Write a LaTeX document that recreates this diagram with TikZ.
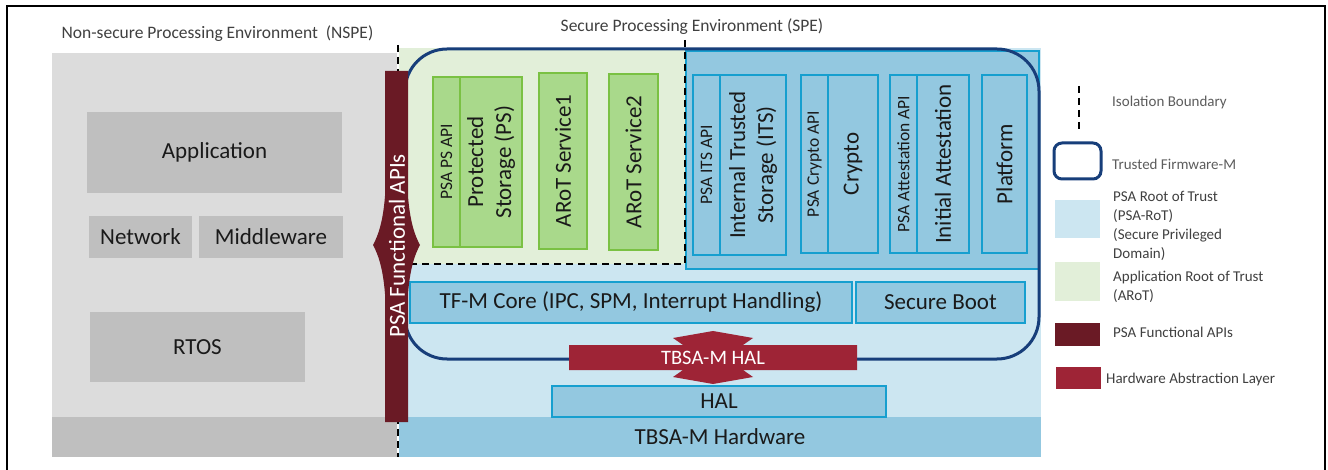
\documentclass[tikz,border=0pt]{standalone}
\usepackage{fontspec}
\setmainfont{Carlito}
\definecolor{nsbg}{HTML}{DCDCDC}
\definecolor{nsbox}{HTML}{BFBFBF}
\definecolor{speblue}{HTML}{CCE6F1}
\definecolor{medblue}{HTML}{93C8E0}
\definecolor{cyanb}{HTML}{169FCF}
\definecolor{arotbg}{HTML}{E2EFD9}
\definecolor{gfill}{HTML}{A9D98B}
\definecolor{gborder}{HTML}{7AC143}
\definecolor{navy}{HTML}{173E7A}
\definecolor{maroon}{HTML}{6A1A25}
\definecolor{halred}{HTML}{9E2436}
\definecolor{txt}{HTML}{1A1A1A}
\definecolor{legtxt}{HTML}{404040}
\tikzset{
  big/.style={font=\fontsize{23}{28}\selectfont},
  small/.style={font=\fontsize{17.5}{20}\selectfont},
  nbox/.style={fill=nsbox, inner sep=0pt, text=txt, big},
  gbox/.style={draw=gborder, fill=gfill, line width=2.5pt, inner sep=0pt, text=txt, rotate=90, align=center},
  bbox/.style={draw=cyanb, fill=medblue, line width=2.5pt, inner sep=0pt, text=txt, rotate=90, align=center},
  hbox/.style={draw=cyanb, fill=medblue, line width=2.5pt, inner sep=0pt, text=txt, big},
  iso/.style={line width=2.2pt, dash pattern=on 7pt off 5pt},
  legend/.style={anchor=west, text=legtxt, font=\fontsize{15}{19}\selectfont, inner sep=0pt, align=left},
  swatch/.style={inner sep=0pt},
}
\begin{document}
\begin{tikzpicture}[x=1pt,y=-1pt]
\useasboundingbox (0,0) rectangle (1328,470);
\fill[white] (0,0) rectangle (1328,470);
% outer frame
\draw[line width=1.6pt] (7,480) -- (7,6) -- (1325,6) -- (1325,480);
% NSPE
\node[fill=nsbg, minimum width=345, minimum height=364, inner sep=0pt] (nspe) at (224.5,235) {};
\node[fill=nsbox, minimum width=345, minimum height=40, inner sep=0pt] (nsstrip) at (224.5,437) {};
\node[nbox, minimum width=255, minimum height=81] (app) at (214.5,152.5) {Application};
\node[nbox, minimum width=103, minimum height=42] (net) at (140.5,237) {Network};
\node[nbox, minimum width=144, minimum height=42] (mid) at (271,237) {Middleware};
\node[nbox, minimum width=215, minimum height=70] (rtos) at (197.5,347) {RTOS};
\node[text=legtxt, font=\fontsize{17.5}{20}\selectfont, inner sep=0pt] (nspelbl) at (217.5,34) {Non-secure Processing Environment~~(NSPE)};
\node[text=legtxt, font=\fontsize{17.5}{20}\selectfont, inner sep=0pt] (spelbl) at (692,27) {Secure Processing Environment (SPE)};
% SPE backgrounds
\fill[speblue] (399,48) rectangle (1041,417);
\node[fill=medblue, minimum width=642, minimum height=40, inner sep=0pt, text=txt, big] (hw) at (720,437) {TBSA-M Hardware};
\fill[arotbg] (399,48) rectangle (685,264);
\draw[cyanb, line width=1.8pt, fill=medblue] (686,51) rectangle (1039,269);
% isolation boundaries
\draw[iso] (398,45) -- (398,457);
\draw[iso] (685,40) -- (685,264) -- (407,264);
% Trusted Firmware-M
\node[draw=navy, line width=3pt, rounded corners=42pt, minimum width=634, minimum height=310, inner sep=0pt] (tfm) at (722,204) {};
% ARoT boxes
\node[gbox, small, minimum width=170, minimum height=27] (psaps) at (446.5,162) {PSA PS API};
\node[gbox, big, minimum width=170, minimum height=62] (ps) at (491,162) {Protected\\Storage (PS)};
\node[gbox, big, minimum width=176, minimum height=48] (arot1) at (563,161) {ARoT Service1};
\node[gbox, big, minimum width=176, minimum height=49] (arot2) at (633.5,162) {ARoT Service2};
% PSA-RoT boxes
\node[bbox, small, minimum width=180, minimum height=27] (itsapi) at (706.5,165) {PSA ITS API};
\node[bbox, big, minimum width=180, minimum height=66] (its) at (753,165) {Internal Trusted\\Storage (ITS)};
\node[bbox, small, minimum width=178, minimum height=27] (cryptoapi) at (814.5,164) {PSA Crypto API};
\node[bbox, big, minimum width=178, minimum height=50] (crypto) at (853,164) {Crypto};
\node[bbox, small, minimum width=178, minimum height=27] (attapi) at (903.5,164) {PSA Attestation API};
\node[bbox, big, minimum width=178, minimum height=52] (att) at (943,164) {Initial Attestation};
\node[bbox, big, minimum width=178, minimum height=45] (plat) at (1004.5,164) {Platform};
% core row
\node[hbox, minimum width=442, minimum height=41] (core) at (631,302.5) {TF-M Core (IPC, SPM, Interrupt Handling)};
\node[hbox, minimum width=169, minimum height=41] (boot) at (940.5,302.5) {Secure Boot};
\node[hbox, minimum width=334, minimum height=31] (hal) at (719,401.5) {HAL};
% TBSA-M HAL arrow
\fill[halred] (569,345) -- (683,345) -- (673,338) -- (713,331) -- (753,338) -- (743,345) -- (857,345)
  -- (857,370) -- (743,370) -- (753,377) -- (713,384) -- (673,377) -- (683,370) -- (569,370) -- cycle;
\node[text=white, font=\fontsize{20.5}{24}\selectfont, inner sep=0pt] (tbsahal) at (713,357.5) {TBSA-M HAL};
% PSA Functional APIs arrow
\fill[maroon] (385,71) -- (408,71) -- (408,196) .. controls (410,222) and (415,236) .. (420,245)
  .. controls (415,254) and (410,268) .. (408,294) -- (408,422) -- (385,422) -- (385,294)
  .. controls (383,268) and (378,254) .. (373,245) .. controls (378,236) and (383,222) .. (385,196) -- cycle;
\node[text=white, big, rotate=90, inner sep=0pt] (psafn) at (397,246) {PSA Functional APIs};
% legend
\draw[iso] (1079,86) -- (1079,130);
\node[legend, text=legtxt!85] (lg1) at (1112,103) {Isolation Boundary};
\draw[navy, line width=3pt, rounded corners=8pt] (1054,143) rectangle (1101,179);
\node[legend, text=legtxt!85] (lg2) at (1112,164) {Trusted Firmware-M};
\fill[speblue] (1055,200) rectangle (1100,238);
\node[legend, anchor=north west] (lg3) at (1113,191) {PSA Root of Trust\\(PSA-RoT)\\(Secure Privileged\\Domain)};
\fill[arotbg] (1055,262) rectangle (1100,301);
\node[legend, anchor=north west] (lg4) at (1113,271) {Application Root of Trust\\(ARoT)};
\fill[maroon] (1055,323) rectangle (1100,346);
\node[legend] (lg5) at (1113,332) {PSA Functional APIs};
\fill[halred] (1056,367) rectangle (1101,389);
\node[legend] (lg6) at (1106,380) {Hardware Abstraction Layer};
\end{tikzpicture}
\end{document}
